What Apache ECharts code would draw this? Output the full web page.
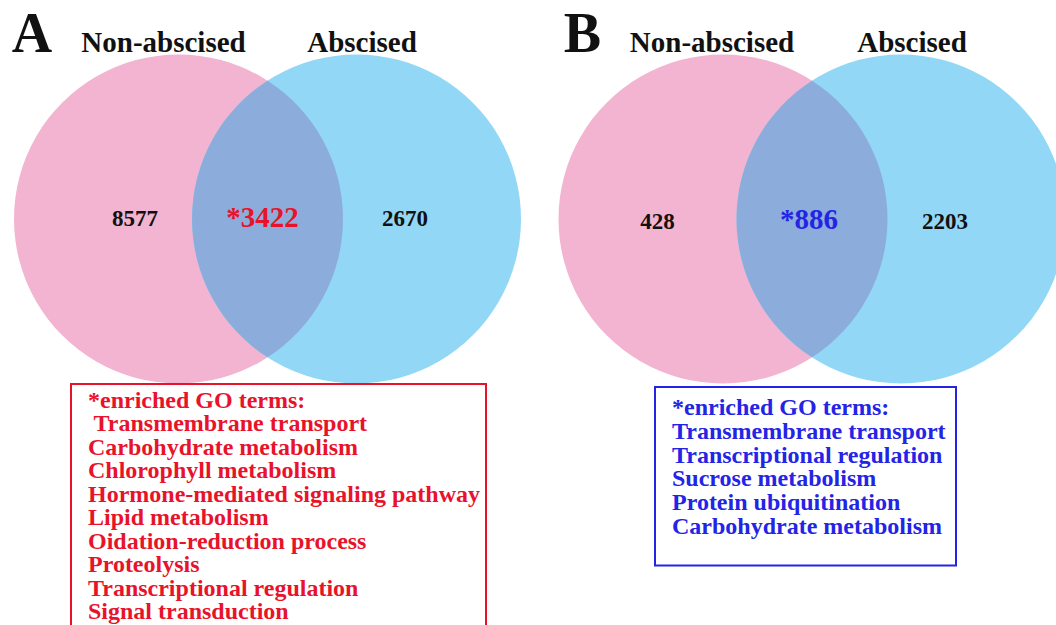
<!DOCTYPE html>
<html>
<head>
<meta charset="utf-8">
<script src="https://cdn.jsdelivr.net/npm/echarts@6/dist/echarts.min.js"></script>
<style>
html,body{margin:0;padding:0;background:#fff;}
#chart{width:1056px;height:625px;}
</style>
</head>
<body>
<div id="chart"></div>
<script>
// ---- data ----
const panelLabels = ['A', 'B'];
const setNames = ['Non-abscised', 'Abscised'];
const onlyNonAbscised = [8577, 428];
const sharedCounts = [3422, 886];
const onlyAbscised = [2670, 2203];
const goTermsA = ['*enriched GO terms:', ' Transmembrane transport', 'Carbohydrate metabolism', 'Chlorophyll metabolism',
  'Hormone-mediated signaling pathway', 'Lipid metabolism', 'Oidation-reduction process', 'Proteolysis',
  'Transcriptional regulation', 'Signal transduction'];
const goTermsB = ['*enriched GO terms:', 'Transmembrane transport', 'Transcriptional regulation', 'Sucrose metabolism',
  'Protein ubiquitination', 'Carbohydrate metabolism'];
const goTerms = [goTermsA, goTermsB];

// ---- layout & style (not data) ----
const layout = [
  { c1: 178.5, c2: 356.5, cy: 219, r: 164.5, letterX: 32, letterY: 33, nameX: [163.5, 362], nameY: 42,
    countX: [135, 262.5, 405], countY: [218, 216.5, 218], accent: '#E8132B',
    box: [71, 384, 415, 270], textX: 88, textY0: 399.5, lineStep: 23.5 },
  { c1: 723, c2: 901, cy: 219, r: 164.5, letterX: 582.5, letterY: 33, nameX: [712, 912], nameY: 42,
    countX: [657.5, 809, 945], countY: [221, 219, 221], accent: '#2424E6',
    box: [655, 387, 301, 178.5], textX: 672, textY0: 407, lineStep: 23.8 }
];
const PINK = '#F2B4D0', BLUE = '#92D7F6', LENS = '#8CADDB';
const FONT = '"Liberation Serif", "Times New Roman", serif';

const seriesData = panelLabels.map((p, i) => [i, onlyNonAbscised[i], sharedCounts[i], onlyAbscised[i]]);

function txt(x, y, text, size, color, align, extra) {
  return Object.assign({
    type: 'text',
    style: { x: x, y: y, text: text, fill: color, fontFamily: FONT, fontWeight: 'bold', fontSize: size,
      align: align || 'center', verticalAlign: 'middle' }
  }, extra || {});
}

function renderItem(params, api) {
  const i = api.value(0);
  const L = layout[i];
  const p1 = api.coord([L.c1, L.cy]);
  const p2 = api.coord([L.c2, L.cy]);
  const r = api.size([L.r, 0])[0];
  const d = p2[0] - p1[0];
  const h = Math.sqrt(r * r - (d / 2) * (d / 2));
  const mx = (p1[0] + p2[0]) / 2, my = p1[1];
  const lens = 'M' + mx + ' ' + (my - h) + ' A' + r + ' ' + r + ' 0 0 1 ' + mx + ' ' + (my + h) +
    ' A' + r + ' ' + r + ' 0 0 1 ' + mx + ' ' + (my - h) + ' Z';
  const children = [
    { type: 'circle', shape: { cx: p1[0], cy: p1[1], r: r }, style: { fill: PINK } },
    { type: 'circle', shape: { cx: p2[0], cy: p2[1], r: r }, style: { fill: BLUE } },
    { type: 'path', shape: { pathData: lens }, style: { fill: LENS } }
  ];
  const cnt = [api.value(1), api.value(2), api.value(3)];
  for (let k = 0; k < 3; k++) {
    const c = api.coord([L.countX[k], L.countY[k]]);
    if (k === 1) children.push(txt(c[0], c[1], '*' + cnt[k], 29, L.accent));
    else children.push(txt(c[0], c[1], String(cnt[k]), 23, '#111'));
  }
  const lp = api.coord([L.letterX, L.letterY]);
  children.push(txt(lp[0], lp[1], panelLabels[i], 56, '#111'));
  for (let k = 0; k < 2; k++) {
    const np = api.coord([L.nameX[k], L.nameY]);
    children.push(txt(np[0], np[1], setNames[k], 29, '#111'));
  }
  const b0 = api.coord([L.box[0], L.box[1]]);
  const bs = api.size([L.box[2], L.box[3]]);
  children.push({ type: 'rect', shape: { x: b0[0], y: b0[1], width: bs[0], height: bs[1] },
    style: { fill: 'none', stroke: L.accent, lineWidth: 2 } });
  goTerms[i].forEach((t, k) => {
    const tp = api.coord([L.textX, L.textY0 + k * L.lineStep]);
    children.push(txt(tp[0], tp[1], t, 24, L.accent, 'left'));
  });
  return { type: 'group', children: children };
}

const chart = echarts.init(document.getElementById('chart'), null, { renderer: 'svg' });
chart.setOption({
  backgroundColor: '#fff',
  animation: false,
  grid: { left: 0, right: 0, top: 0, bottom: 0 },
  xAxis: { type: 'value', min: 0, max: 1056, show: false },
  yAxis: { type: 'value', min: 0, max: 625, inverse: true, show: false },
  series: [{
    type: 'custom',
    coordinateSystem: 'cartesian2d',
    clip: false,
    renderItem: renderItem,
    data: seriesData
  }]
});
</script>
</body>
</html>
